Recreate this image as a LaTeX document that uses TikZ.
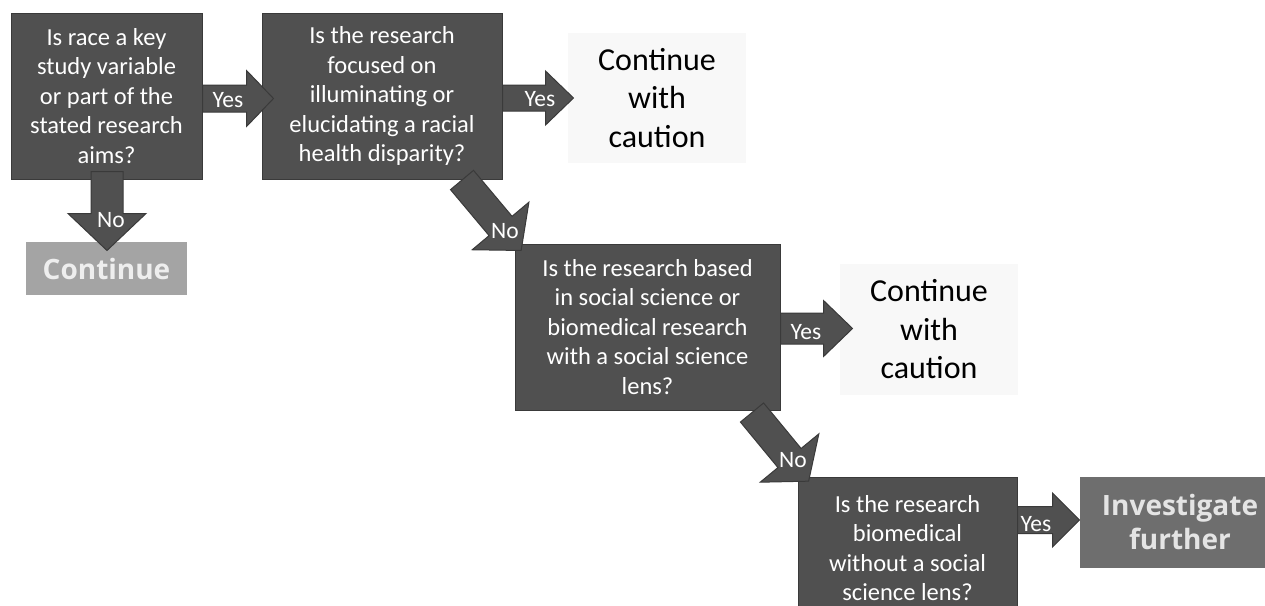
\documentclass[tikz,border=0pt]{standalone}
\usepackage{fontspec}
\setmainfont{Carlito}
\newfontfamily\boldsans{Open Sans}
\usetikzlibrary{calc}
\definecolor{boxfill}{HTML}{505050}
\definecolor{boxline}{HTML}{3A3A3A}
\definecolor{cautionbg}{HTML}{F8F8F8}
\definecolor{contfill}{HTML}{A4A4A4}
\definecolor{contText}{HTML}{EEEEEE}
\definecolor{invfill}{HTML}{6E6E6E}
\definecolor{invText}{HTML}{E4E4E4}
\tikzset{
  qbox/.style={draw=boxline, line width=1pt, fill=boxfill, text=white, align=center,
    inner sep=0pt, font=\fontsize{24.5}{29.5}\selectfont},
  caution/.style={fill=cautionbg, text=black, align=center, inner sep=0pt,
    font=\fontsize{32}{38.5}\selectfont},
  endbox/.style={align=center, inner sep=0pt, font=\boldsans\bfseries\fontsize{28}{34}\selectfont},
  arr/.style={draw=boxline, line width=1pt, fill=boxfill, line join=miter},
  arrlabel/.style={text=white, inner sep=0pt, font=\fontsize{23.5}{27}\selectfont}
}
\newcommand{\blockarrow}[6]{%
  \begin{scope}[shift={#1}, rotate=#2]
    \draw[arr] (0,-#4) -- ({#3-#6},-#4) -- ({#3-#6},-#5) -- (#3,0) -- ({#3-#6},#5) -- ({#3-#6},#4) -- (0,#4) -- cycle;
  \end{scope}}
\begin{document}
\begin{tikzpicture}[x=1pt, y=-1pt]
\useasboundingbox[fill=white] (0,0) rectangle (1265,605);

% question boxes
\node[qbox, minimum width=191pt, minimum height=166pt] (b1) at (106.5,96)
  {Is race a key\\study variable\\or part of the\\stated research\\aims?};
\node[qbox, minimum width=240pt, minimum height=166pt] (b2) at (382,96)
  {Is the research\\focused on\\illuminating or\\elucidating a racial\\health disparity?};
\node[qbox, minimum width=265pt, minimum height=166pt] (b3) at (647.5,327)
  {Is the research based\\in social science or\\biomedical research\\with a social science\\lens?};
\node[qbox, minimum width=219pt, minimum height=142pt] (b4) at (907.5,548)
  {Is the research\\biomedical\\without a social\\science lens?};

% outcome boxes
\node[caution, minimum width=178pt, minimum height=130pt] (c1) at (657,98)
  {Continue\\with\\caution};
\node[caution, minimum width=178pt, minimum height=131pt] (c2) at (929,329.5)
  {Continue\\with\\caution};
\node[endbox, fill=contfill, text=contText, minimum width=161pt, minimum height=53pt] (e1) at (106.5,268.5)
  {Continue};
\node[endbox, fill=invfill, text=invText, minimum width=200pt, minimum height=91pt] (e2) at (1180,522)
  {Investigate\\further};

% block arrows
\blockarrow{($(b1.east)+(0,2.5)$)}{0}{71}{13.5}{28}{27}
\blockarrow{($(b2.east)+(0,2)$)}{0}{71}{13}{27}{28}
\blockarrow{($(b3.east)+(0,1.5)$)}{0}{72}{15.5}{28}{29}
\blockarrow{($(b4.east)+(0,-28)$)}{0}{62}{13.5}{27}{27}
\blockarrow{($(b1.south)+(0.5,-8)$)}{-90}{79}{16}{39}{37}
\blockarrow{($(b2.south east)+(-40.5,0.5)$)}{-50}{92}{15}{37}{32}
\blockarrow{($(b3.south east)+(-28.5,2)$)}{-50.5}{89}{15}{38}{30}

% arrow labels
\node[arrlabel] (y1) at (228,100) {Yes};
\node[arrlabel] (y2) at (540,99) {Yes};
\node[arrlabel] (y3) at (806,332) {Yes};
\node[arrlabel] (y4) at (1036,524) {Yes};
\node[arrlabel] (n1) at (111,220) {No};
\node[arrlabel] (n2) at (505,231) {No};
\node[arrlabel] (n3) at (793,460) {No};
\end{tikzpicture}
\end{document}
